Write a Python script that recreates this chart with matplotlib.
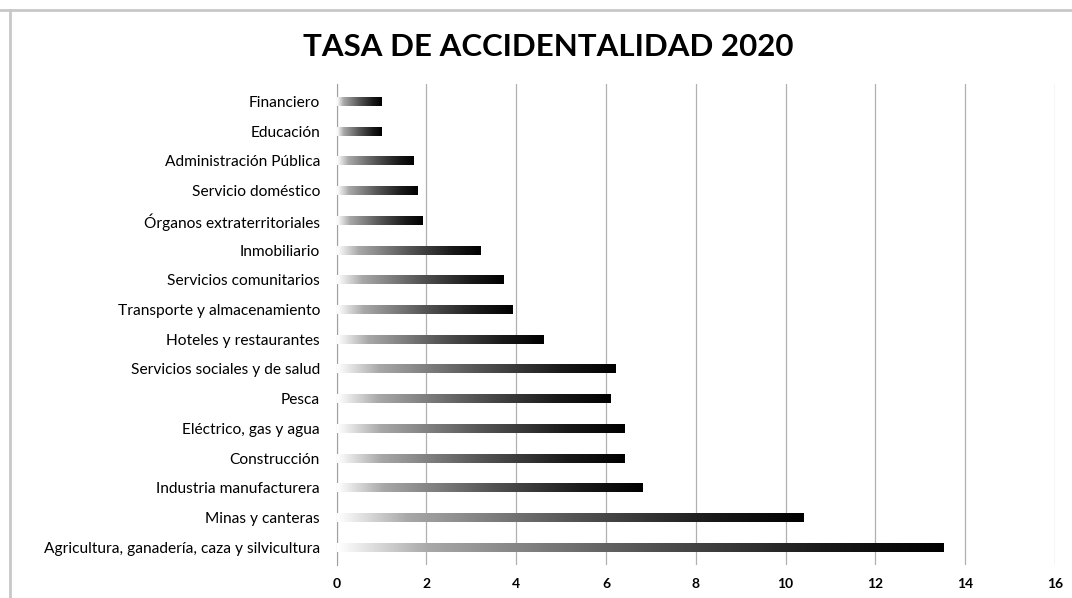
import numpy as np
import matplotlib.pyplot as plt
from matplotlib.colors import LinearSegmentedColormap
from matplotlib.lines import Line2D

plt.rcParams['font.family'] = ['Lato', 'DejaVu Sans']

# sectors from top to bottom as in the chart
sectores = ['Financiero', 'Educación', 'Administración Pública', 'Servicio doméstico',
            'Órganos extraterritoriales', 'Inmobiliario', 'Servicios comunitarios',
            'Transporte y almacenamiento', 'Hoteles y restaurantes',
            'Servicios sociales y de salud', 'Pesca', 'Eléctrico, gas y agua',
            'Construcción', 'Industria manufacturera', 'Minas y canteras',
            'Agricultura, ganadería, caza y silvicultura']
tasa = [1.0, 1.0, 1.7, 1.8, 1.9, 3.2, 3.7, 3.9, 4.6, 6.2, 6.1, 6.4, 6.4, 6.8, 10.4, 13.5]

xticks = [0, 2, 4, 6, 8, 10, 12, 14, 16]

fig = plt.figure(figsize=(10.72, 5.98), dpi=100)
ax = fig.add_axes([0.314, 0.055, 0.67, 0.805])

cmap = LinearSegmentedColormap.from_list(
    'grad', [(0, '#ffffff'), (0.15, '#a8a8a8'), (0.5, '#555555'), (0.8, '#1a1a1a'), (1, '#000000')])
grad = np.linspace(0, 1, 256).reshape(1, -1)

n = len(sectores)
y = np.arange(n)[::-1]
h = 0.3
bars = ax.barh(y, tasa, height=h, color='none', zorder=3)
for b in bars:
    x0, y0 = b.get_x(), b.get_y()
    ax.imshow(grad, cmap=cmap, aspect='auto', zorder=3,
              extent=[x0, x0 + b.get_width(), y0, y0 + b.get_height()])

ax.set_xlim(0, 16)
ax.set_ylim(-0.6, n - 0.4)
ax.set_xticks(xticks)
ax.set_xticklabels([str(t) for t in xticks], fontsize=10, fontweight='bold')
ax.set_yticks(y)
ax.set_yticklabels(sectores, fontsize=11.2)
ax.tick_params(length=0)
ax.tick_params(axis='x', pad=9)
ax.tick_params(axis='y', pad=12)
ax.xaxis.grid(True, color='#b0b0b0', linewidth=0.9)
ax.set_axisbelow(True)
for s in ['top', 'right', 'bottom']:
    ax.spines[s].set_visible(False)
ax.spines['left'].set_color('#a0a0a0')

fig.text(0.511, 0.922, 'TASA DE ACCIDENTALIDAD 2020', ha='center', va='center',
         fontsize=22.5, fontweight='bold')

# outer chart frame (top and left edge visible)
fig.add_artist(Line2D([0, 1], [0.984, 0.984], color='#c8c8c8', linewidth=2, transform=fig.transFigure))
fig.add_artist(Line2D([0.009, 0.009], [0, 0.984], color='#c8c8c8', linewidth=2, transform=fig.transFigure))

fig.savefig('out.png', dpi=100)
